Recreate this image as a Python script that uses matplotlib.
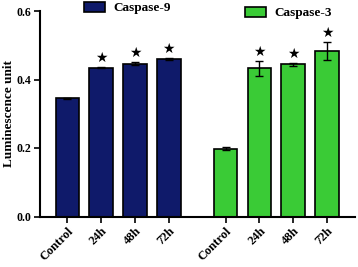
import matplotlib
matplotlib.use("Agg")
import matplotlib.pyplot as plt
from matplotlib.patches import Patch
import numpy as np

categories = ["Control", "24h", "48h", "72h"]
casp9 = [0.345, 0.435, 0.446, 0.460]
casp9_err = [0.001, 0.001, 0.005, 0.002]
casp3 = [0.198, 0.433, 0.444, 0.484]
casp3_err = [0.005, 0.022, 0.005, 0.026]
sig9 = [False, True, True, True]
sig3 = [False, True, True, True]

plt.rcParams['font.family'] = ['Liberation Serif', 'DejaVu Serif']
plt.rcParams['font.weight'] = 'bold'

fig = plt.figure(figsize=(3.58, 2.67), dpi=100)
ax = fig.add_axes([40/358, 50.5/267, 315/358, 205.5/267])

c9 = '#0f1a6a'
c3 = '#3acb36'
x9 = np.arange(4)
x3 = np.arange(4) + 4.68
w = 0.7
ax.bar(x9, casp9, w, color=c9, edgecolor='black', linewidth=1.2,
       yerr=casp9_err, error_kw=dict(ecolor='black', elinewidth=1, capsize=3, capthick=1))
ax.bar(x3, casp3, w, color=c3, edgecolor='black', linewidth=1.2,
       yerr=casp3_err, error_kw=dict(ecolor='black', elinewidth=1, capsize=3, capthick=1))

for xs, vals, errs, sig in [(x9, casp9, casp9_err, sig9), (x3, casp3, casp3_err, sig3)]:
    for xi, v, e, s in zip(xs, vals, errs, sig):
        if s:
            ax.annotate('★', (xi, v + e), xytext=(0, 1.5), textcoords='offset points',
                        ha='center', va='bottom', fontsize=10, family='DejaVu Sans')

ax.set_xlim(-0.81, 8.51)
ax.set_ylim(0, 0.6)
ax.set_yticks([0.0, 0.2, 0.4, 0.6])
ax.set_yticklabels(['0.0', '0.2', '0.4', '0.6'], fontsize=8.5, fontweight='bold')
ax.set_xticks(list(x9) + list(x3))
ax.set_xticklabels(categories + categories, rotation=45, ha='right',
                   rotation_mode='anchor', fontsize=9, fontweight='bold')
ax.spines['top'].set_visible(False)
ax.spines['right'].set_visible(False)
ax.spines['left'].set_linewidth(1.5)
ax.spines['bottom'].set_linewidth(1.5)
ax.tick_params(axis='both', direction='out', length=4, width=1.2, pad=2)
ax.set_ylabel('Luminescence unit', fontsize=9.5, fontweight='bold')
ax.yaxis.set_label_coords(-0.078, 0.5)

fig.legend(handles=[Patch(facecolor=c9, edgecolor='black', linewidth=1.2)], labels=['Caspase-9'],
           loc='center left', bbox_to_anchor=(72/358, 1 - 8/267), frameon=False,
           prop=dict(size=9.5, weight='bold'), handlelength=1.6, handleheight=0.8, handletextpad=0.6)
fig.legend(handles=[Patch(facecolor=c3, edgecolor='black', linewidth=1.2)], labels=['Caspase-3'],
           loc='center left', bbox_to_anchor=(233/358, 1 - 13/267), frameon=False,
           prop=dict(size=9.5, weight='bold'), handlelength=1.6, handleheight=0.8, handletextpad=0.6)

fig.savefig('out.png', dpi=100)
